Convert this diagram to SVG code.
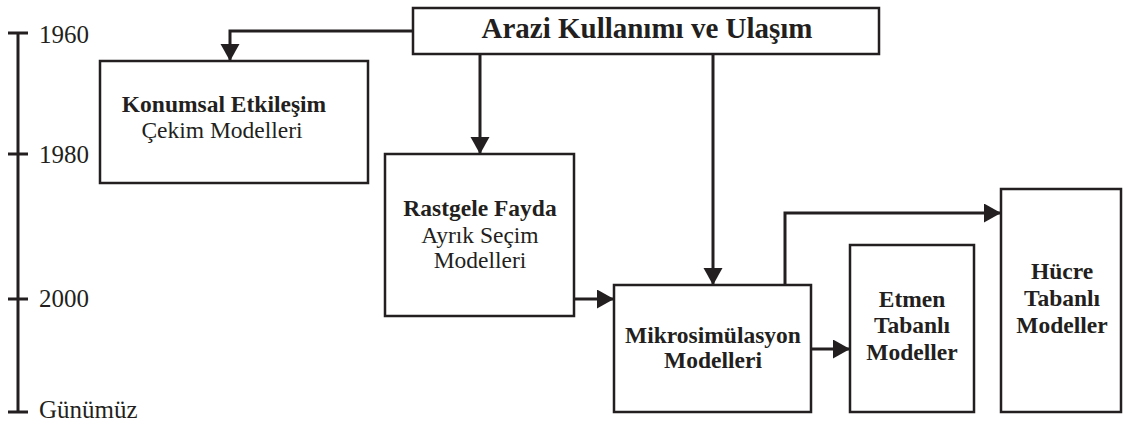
<svg xmlns="http://www.w3.org/2000/svg" width="1125" height="425" viewBox="0 0 1125 425" font-family="'Liberation Serif', 'DejaVu Serif', serif">
<style>
.box{fill:#fff;stroke:#231f20;stroke-width:2.5}
.con{fill:none;stroke:#231f20;stroke-width:3}
.axis{fill:none;stroke:#231f20;stroke-width:3}
text{font-family:'Liberation Serif','DejaVu Serif',serif;fill:#231f20;text-anchor:middle}
.b{font-weight:bold;font-size:23.5px}
.r{font-size:23.5px}
.yr{font-size:25px;text-anchor:start}
</style>
<defs>
<marker id="ah" markerUnits="userSpaceOnUse" markerWidth="20" markerHeight="20" refX="17" refY="9.5" orient="auto">
<path d="M0,0 L17,9.5 L0,19 Z" fill="#231f20"/>
</marker>
</defs>
<g id="timeline">
<path class="axis" d="M18,33 V412 M8,33 H28 M8,154 H28 M8,299 H28 M8,412 H28"/>
<text class="yr" x="39" y="43">1960</text>
<text class="yr" x="39" y="163">1980</text>
<text class="yr" x="39" y="307">2000</text>
<text class="yr" x="39" y="418">Günümüz</text>
</g>
<g id="connectors">
<path class="con" d="M413,31 H230 V61" marker-end="url(#ah)"/>
<path class="con" d="M480,54 V154" marker-end="url(#ah)"/>
<path class="con" d="M713,54 V285" marker-end="url(#ah)"/>
<path class="con" d="M574,299 H614" marker-end="url(#ah)"/>
<path class="con" d="M811,349 H850" marker-end="url(#ah)"/>
<path class="con" d="M785,285 V213 H1001" marker-end="url(#ah)"/>
</g>
<g id="arazi">
<rect class="box" x="413" y="8" width="466" height="46"/>
<text class="b" x="647" y="38" style="font-size:29px">Arazi Kullanımı ve Ulaşım</text>
</g>
<g id="konumsal">
<rect class="box" x="100" y="61" width="268" height="122"/>
<text class="b" x="224" y="112">Konumsal Etkileşim</text>
<text class="r" x="222" y="138">Çekim Modelleri</text>
</g>
<g id="rastgele">
<rect class="box" x="385" y="154" width="189" height="162"/>
<text class="b" x="480" y="216">Rastgele Fayda</text>
<text class="r" x="480" y="243">Ayrık Seçim</text>
<text class="r" x="480" y="268">Modelleri</text>
</g>
<g id="mikro">
<rect class="box" x="614" y="285" width="197" height="127"/>
<text class="b" x="713" y="343">Mikrosimülasyon</text>
<text class="b" x="713" y="368">Modelleri</text>
</g>
<g id="etmen">
<rect class="box" x="850" y="245" width="124" height="167"/>
<text class="b" x="912" y="307">Etmen</text>
<text class="b" x="912" y="333">Tabanlı</text>
<text class="b" x="912" y="360">Modeller</text>
</g>
<g id="hucre">
<rect class="box" x="1001" y="189" width="120" height="223"/>
<text class="b" x="1062" y="279">Hücre</text>
<text class="b" x="1062" y="306">Tabanlı</text>
<text class="b" x="1062" y="333">Modeller</text>
</g>
</svg>
